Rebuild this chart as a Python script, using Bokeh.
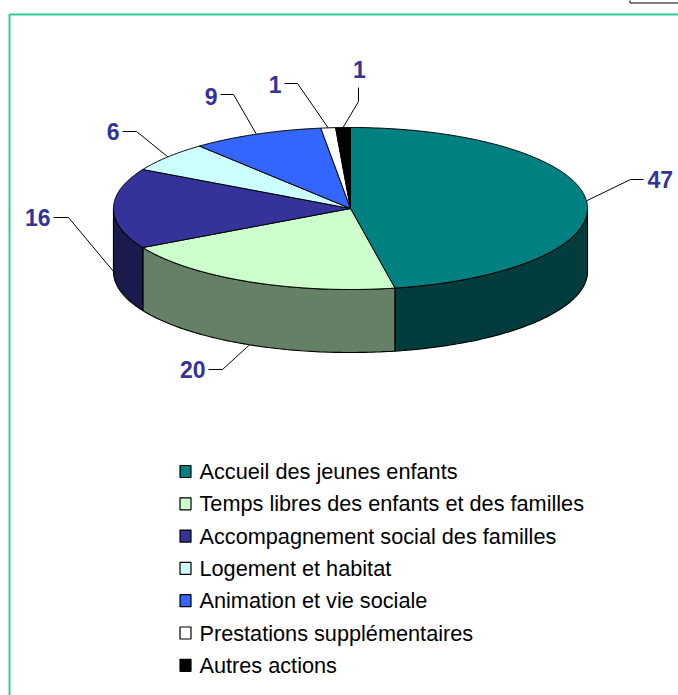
import numpy as np
from bokeh.plotting import figure
from bokeh.models import Range1d
from bokeh.core.properties import value
from bokeh.embed import file_html
from bokeh.resources import INLINE

# ---- data ----
categories = ["Accueil des jeunes enfants",
              "Temps libres des enfants et des familles",
              "Accompagnement social des familles",
              "Logement et habitat",
              "Animation et vie sociale",
              "Prestations supplémentaires",
              "Autres actions"]
values = [47, 20, 16, 6, 9, 1, 1]
top_colors = ["#008080", "#CCFFCC", "#333399", "#CCFFFF", "#3366FF", "#FFFFFF", "#000000"]
side_colors = ["#033C3C", "#668066", "#1A1A4D", "#668080", "#1A3380", "#808080", "#000000"]

# ---- layout (pixel space) ----
CX, CY, RX, RY, DEPTH = 350.0, 208.0, 237.0, 81.0, 63.0
FONT = "Liberation Sans"
LABEL_COLOR = "#333399"
# leader-line elbows / ends and text placement for each slice label
label_layout = [
    dict(elbow=(630, 179), end=(643, 179), text=(647, 179), align="left"),
    dict(elbow=(222, 369), end=(208, 369), text=(205, 369), align="right"),
    dict(elbow=(68, 217), end=(53, 217), text=(50, 217), align="right"),
    dict(elbow=(136, 131), end=(122, 131), text=(119, 131), align="right"),
    dict(elbow=(233, 94), end=(220, 94), text=(217, 96), align="right"),
    dict(elbow=(297, 83), end=(284, 83), text=(281, 84), align="right"),
    dict(elbow=(358, 101), end=(358, 87), text=(359, 69), align="center"),
]
LEG_X, LEG_Y0, LEG_DY = 185, 471, 32.3

W, H = 678, 695
p = figure(width=W, height=H, output_backend="svg", toolbar_location=None,
           x_range=Range1d(0, W), y_range=Range1d(H, 0),
           min_border=0)
p.axis.visible = False
p.grid.visible = False
p.outline_line_color = None
p.background_fill_color = "white"

# frame lines and clipped box at the top right
p.line([9, 9, 678], [695, 14, 14], line_color="#33CC99", line_width=2)
p.quad(left=[629.5], right=[680], top=[-5], bottom=[2.5], fill_color="white",
       line_color="black", line_width=1)


def rim(theta_deg, dy=0.0):
    t = np.radians(theta_deg)
    return CX + RX * np.sin(t), CY - RY * np.cos(t) + dy


total = float(sum(values))
angles = np.concatenate([[0.0], np.cumsum(values) / total * 360.0])

# side walls (visible front half: 90..270 deg from top, clockwise)
for i in range(len(values)):
    a0, a1 = max(angles[i], 90.0), min(angles[i + 1], 270.0)
    if a1 <= a0:
        continue
    th = np.linspace(a0, a1, 80)
    xt, yt = rim(th)
    xb, yb = rim(th[::-1], DEPTH)
    p.patch(list(xt) + list(xb), list(yt) + list(yb),
            fill_color=side_colors[i], line_color="black", line_width=1.2)

# top faces
for i in range(len(values)):
    th = np.linspace(angles[i], angles[i + 1], max(4, int((angles[i + 1] - angles[i]) * 2)))
    xt, yt = rim(th)
    p.patch([CX] + list(xt), [CY] + list(yt),
            fill_color=top_colors[i], line_color="black", line_width=1)

# labels with leader lines
for i, v in enumerate(values):
    mid = (angles[i] + angles[i + 1]) / 2.0
    lower = np.cos(np.radians(mid)) < 0
    ax, ay = rim(mid, DEPTH if lower else 0.0)
    lay = label_layout[i]
    p.line([ax, lay["elbow"][0], lay["end"][0]], [ay, lay["elbow"][1], lay["end"][1]],
           line_color="black", line_width=1)
    p.text(x=[lay["text"][0]], y=[lay["text"][1]], text=[str(v)],
           text_font=value(FONT), text_font_size="23px", text_font_style="bold",
           text_color=LABEL_COLOR, text_align=lay["align"], text_baseline="middle")

# legend
for i, name in enumerate(categories):
    y = LEG_Y0 + i * LEG_DY
    p.rect(x=[LEG_X], y=[y], width=11, height=12, fill_color=top_colors[i],
           line_color="black", line_width=1.2)
    p.text(x=[LEG_X + 14], y=[y], text=[name], text_font=value(FONT),
           text_font_size="21.7px", text_color="black", text_baseline="middle")

open("out.html", "w").write(file_html(p, INLINE))
